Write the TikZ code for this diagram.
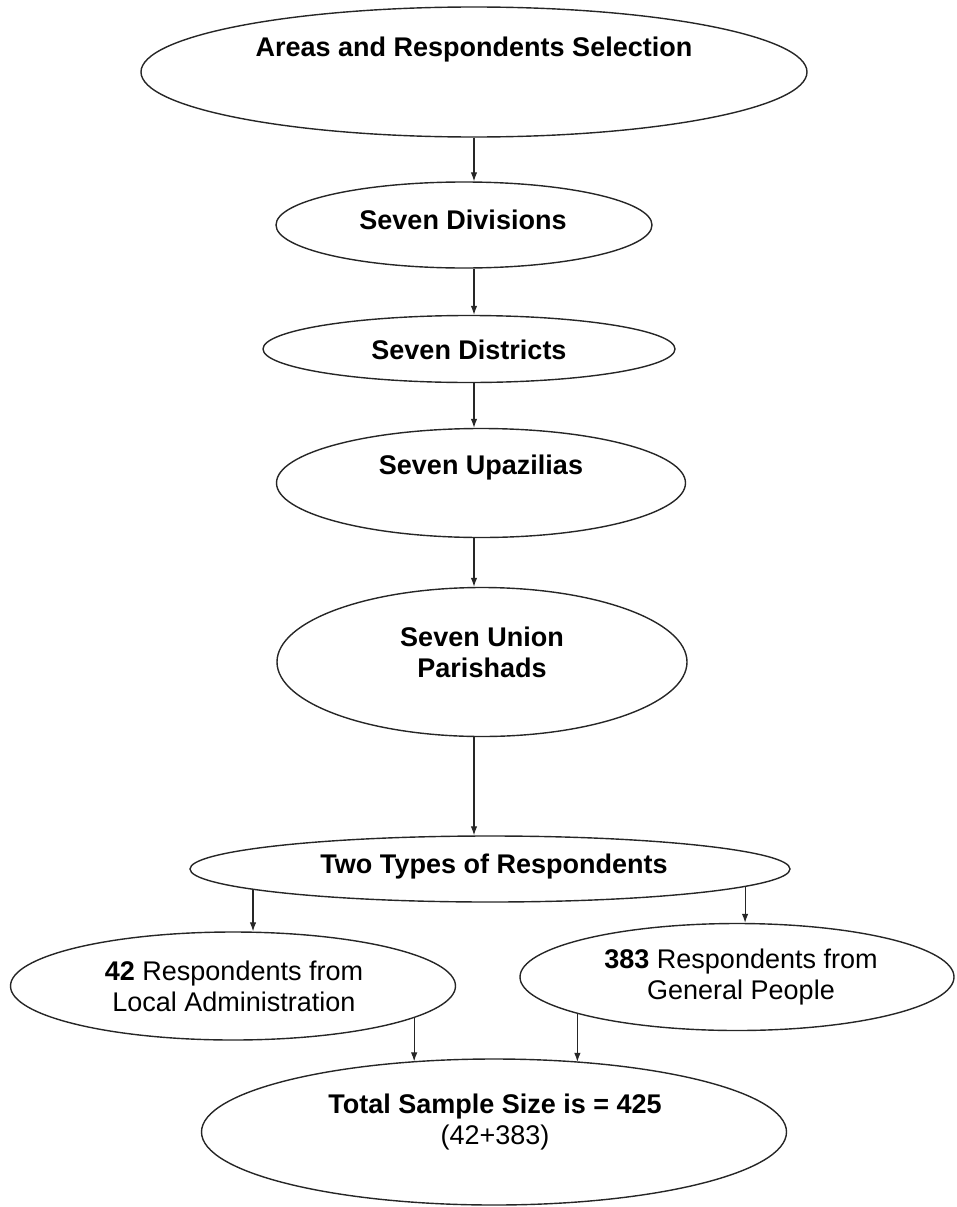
\documentclass[tikz,border=0pt]{standalone}
\usepackage{fontspec}
\setmainfont{Liberation Sans}
\usetikzlibrary{shapes.geometric,arrows.meta}
\begin{document}
\begin{tikzpicture}[x=1pt,y=-1pt,
  oval/.style={draw=black!85, line width=1.4pt, ellipse, inner sep=0pt},
  lbl/.style={font=\fontsize{27}{31}\selectfont\bfseries, align=center, inner sep=0pt},
  lblr/.style={font=\fontsize{27}{31}\selectfont, align=center, inner sep=0pt},
  arr/.style={draw=black!85, line width=1.1pt, -{Latex[length=9pt,width=6.5pt]}}]
\useasboundingbox (0,0) rectangle (956,1207);
% ellipses
\node[oval, minimum width=666pt, minimum height=130pt] (e1) at (474,72) {};
\node[oval, minimum width=376pt, minimum height=86pt] (e2) at (464,225) {};
\node[oval, minimum width=412pt, minimum height=67pt] (e3) at (469,349) {};
\node[oval, minimum width=409pt, minimum height=109pt] (e4) at (481,483) {};
\node[oval, minimum width=410pt, minimum height=149pt] (e5) at (482,662) {};
\node[oval, minimum width=600pt, minimum height=66pt] (e6) at (490,869) {};
\node[oval, minimum width=445pt, minimum height=108pt] (e7) at (233,986) {};
\node[oval, minimum width=434pt, minimum height=107pt] (e8) at (737,977) {};
\node[oval, minimum width=585pt, minimum height=146pt] (e9) at (494,1132) {};
% texts
\node[lbl] (t1) at (474,50) {Areas and Respondents Selection};
\node[lbl] (t2) at (463,220) {Seven Divisions};
\node[lbl] (t3) at (469,350) {Seven Districts};
\node[lbl] (t4) at (481,468) {Seven Upazilias};
\node[lbl] (t5) at (482,652) {Seven Union\\Parishads};
\node[lbl] (t6) at (494,867) {Two Types of Respondents};
\node[lblr] (t7) at (234,986) {\textbf{42} Respondents from\\Local Administration};
\node[lblr] (t8) at (741,977) {\textbf{383} Respondents from\\General People};
\node[lblr] (t9) at (495,1122) {\textbf{Total Sample Size is = 425}\\(42+383)};
% connectors
\coordinate (ax) at (e1.south);
\draw[arr] (e1.south) -- (ax |- e2.north);
\draw[arr] (ax |- e2.south) -- (ax |- e3.north);
\draw[arr] (ax |- e3.south) -- (ax |- e4.north);
\draw[arr] (ax |- e4.south) -- (ax |- e5.north);
\draw[arr] (ax |- e5.south) -- (ax |- e6.north);
\draw[arr] (e6.185) -- (e6.185 |- e7.north);
\draw[arr] (e6.-4) -- (e6.-4 |- e8.north);
\draw[arr] (e7.-10.5) -- (e7.-10.5 |- e9.140);
\draw[arr] (e8.193.8) -- (e8.193.8 |- e9.38);
\end{tikzpicture}
\end{document}
